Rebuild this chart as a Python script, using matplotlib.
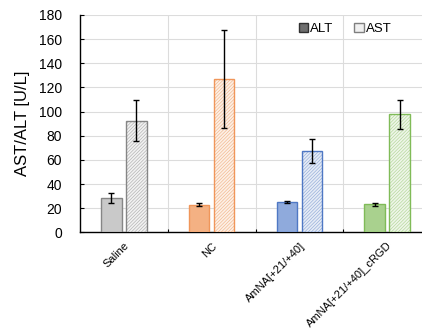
import matplotlib
matplotlib.use("Agg")
import matplotlib.pyplot as plt
from matplotlib.patches import Patch
import numpy as np

plt.rcParams['font.family'] = ['Liberation Sans', 'DejaVu Sans']
plt.rcParams['hatch.linewidth'] = 0.45

# data
groups = ["Saline", "NC", "AmNA[+21/+40]", "AmNA[+21/+40]_cRGD"]
alt_mean = [28.5, 23.0, 25.0, 23.2]
alt_err = [4.4, 1.5, 0.9, 1.3]
ast_mean = [92.5, 127.0, 67.4, 97.7]
ast_err = [16.7, 40.6, 9.7, 11.9]

# colours per group
edge_cols = ["#868686", "#f0965a", "#4f78c4", "#80bb58"]
alt_fill = ["#c9c9c9", "#f4b183", "#8faadc", "#a9d18e"]
ast_fill = ["#f2f2f2", "#fdf0e6", "#e6ecf6", "#eef6e8"]
hatch_cols = ["#b0b0b0", "#f2b68c", "#93acd8", "#b2d698"]

fig = plt.figure(figsize=(4.22, 3.32), dpi=100)
ax = fig.add_axes([80 / 422, 1 - 232.3 / 332, 351 / 422, 217.3 / 332])

x = np.arange(len(groups))
w = 0.234
off = 0.143

for i in range(len(groups)):
    ax.bar(x[i] - off, alt_mean[i], w, color=alt_fill[i], edgecolor=edge_cols[i],
           linewidth=1, zorder=3)
    # hatch layer, then outline on top
    ax.bar(x[i] + off, ast_mean[i], w, color=ast_fill[i], edgecolor=hatch_cols[i],
           linewidth=0, hatch="//////////", zorder=3)
    ax.bar(x[i] + off, ast_mean[i], w, fill=False, edgecolor=edge_cols[i],
           linewidth=1, zorder=3)

ax.errorbar(x - off, alt_mean, yerr=alt_err, fmt="none", ecolor="black",
            elinewidth=1, capsize=2.5, capthick=1, zorder=4)
ax.errorbar(x + off, ast_mean, yerr=ast_err, fmt="none", ecolor="black",
            elinewidth=1, capsize=2.5, capthick=1, zorder=4)

ax.set_xlim(-0.5, len(groups) - 0.5)
ax.set_ylim(0, 180)
ax.set_yticks(np.arange(0, 181, 20))
ax.tick_params(axis="y", direction="in", length=3, labelsize=10, pad=13)

# boundaries as major ticks (grid), labels at centers as minor ticks
ax.set_xticks(np.arange(0.5, len(groups) - 0.5, 1))
ax.set_xticklabels([])
ax.set_xticks(x, minor=True)
ax.set_xticklabels(groups, minor=True, rotation=45, ha="right",
                   rotation_mode="anchor", fontsize=8)
ax.tick_params(axis="x", which="major", direction="in", length=2)
ax.tick_params(axis="x", which="minor", length=0, pad=6)

ax.grid(True, color="#dcdcdc", linewidth=0.8, zorder=0)
ax.set_axisbelow(True)
for s in ["top", "right"]:
    ax.spines[s].set_visible(False)
ax.spines["left"].set_linewidth(1)
ax.spines["bottom"].set_linewidth(1)

ax.set_ylabel("AST/ALT [U/L]", fontsize=12, labelpad=6)

handles = [Patch(facecolor="#6e6e6e", edgecolor="#303030", label="ALT"),
           Patch(facecolor="#f0f0f0", edgecolor="#7f7f7f", label="AST")]
fig.legend(handles=handles, loc="center", bbox_to_anchor=(345 / 422, 1 - 29 / 332),
           ncol=2, frameon=False, fontsize=9.5, handlelength=0.7, handleheight=0.7,
           handletextpad=0.15, columnspacing=1.6)

fig.savefig("out.png", dpi=100)
